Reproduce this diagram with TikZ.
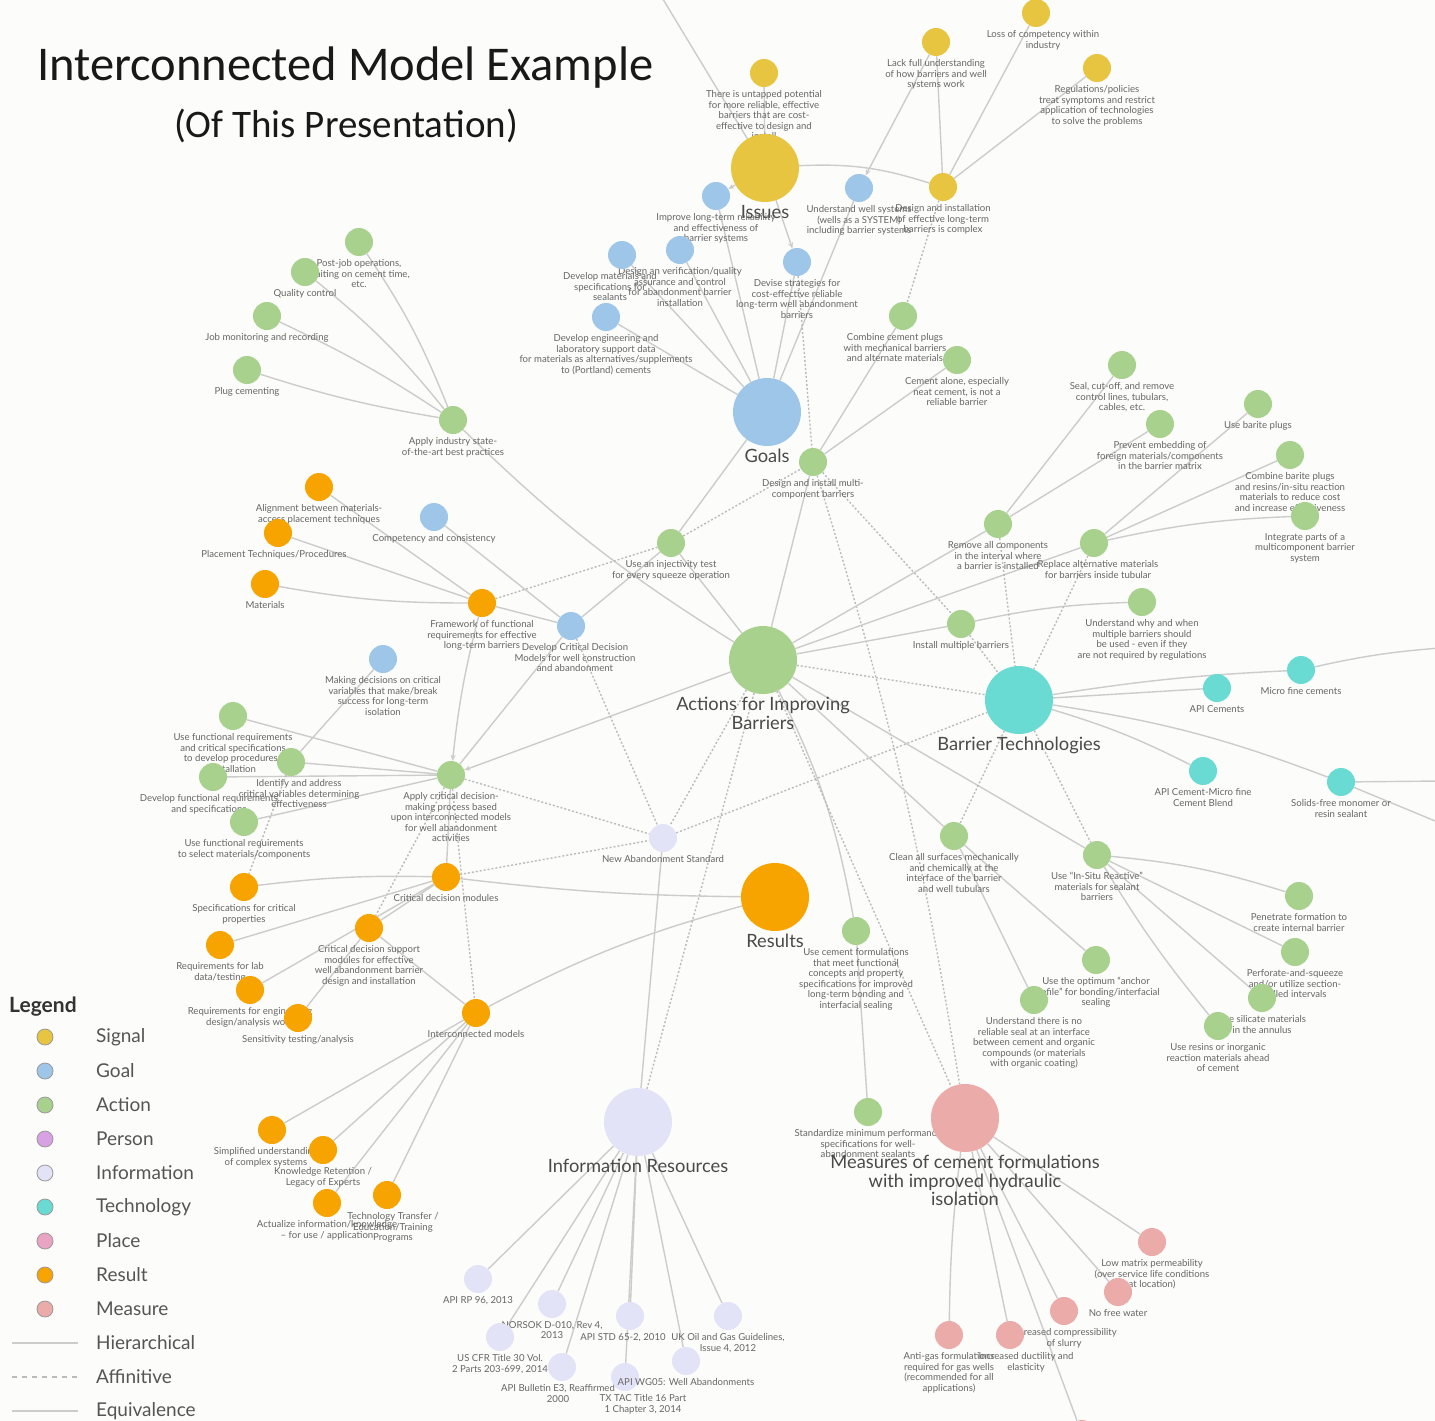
\documentclass[tikz,border=0pt]{standalone}
\usepackage{fontspec}
\setmainfont{Lato}
\newfontfamily\titlefont{Carlito}
\usetikzlibrary{arrows.meta,backgrounds}
\definecolor{bgc}{HTML}{FCFCFA}
\definecolor{cSig}{HTML}{E8C540}
\definecolor{cGoal}{HTML}{9DC6E8}
\definecolor{cAct}{HTML}{A9D18E}
\definecolor{cPer}{HTML}{D7A1E3}
\definecolor{cInfo}{HTML}{E3E3F7}
\definecolor{cTech}{HTML}{6ADBD3}
\definecolor{cPlace}{HTML}{E9A4C4}
\definecolor{cRes}{HTML}{F7A400}
\definecolor{cMeas}{HTML}{EBABA8}
\definecolor{edgec}{HTML}{CCCCCC}
\definecolor{affc}{HTML}{BBBBBB}
\definecolor{labc}{HTML}{666666}
\definecolor{hubc}{HTML}{4A4A4A}
\definecolor{legc}{HTML}{555555}
\newcommand\mknode[5]{\node[nd,#1,label={[lab,#4]below:{#5}}] (#2) at (#3) {};}
\begin{document}
\begin{tikzpicture}[x=1pt,y=-1pt,
  nd/.style={circle,inner sep=0pt,minimum size=28pt},
  hub/.style={circle,inner sep=0pt,minimum size=68pt},
  sig/.style={fill=cSig}, goal/.style={fill=cGoal}, act/.style={fill=cAct},
  info/.style={fill=cInfo}, tech/.style={fill=cTech}, res/.style={fill=cRes},
  meas/.style={fill=cMeas},
  lab/.style={font=\fontsize{9.6}{10.6}\selectfont, text=labc, align=center, inner sep=1pt, label distance=2pt},
  hublab/.style={font=\fontsize{18.3}{18.5}\selectfont, text=hubc, align=center, inner sep=1pt, label distance=2pt},
  hier/.style={draw=edgec, line width=1.4pt},
  aff/.style={draw=affc, line width=1.4pt, dash pattern=on 2pt off 2pt},
  arr/.style={-{Stealth[length=6pt,width=5pt]}},
  legcirc/.style={circle,inner sep=0pt,minimum size=16pt,draw=black!40,line width=0.8pt},
  legtxt/.style={anchor=west,font=\fontsize{19}{20}\selectfont,text=legc,inner sep=0pt}
]
\useasboundingbox (0,0) rectangle (1435,1421);

% ---------- title ----------
\node[anchor=base west,inner sep=0pt,font=\titlefont\fontsize{48.5}{52}\selectfont,text=black!90] (title) at (37,81) {Interconnected Model Example};
\node[anchor=base,inner sep=0pt,font=\titlefont\fontsize{39}{42}\selectfont,text=black!90] (subtitle) at (346,137) {(Of This Presentation)};

% ---------- signals ----------
\node[nd,fill=gray!45] (topn) at (655,-14) {};
\mknode{sig}{s1}{764,73}{}{There is untapped potential\\for more reliable, effective\\barriers that are cost-\\effective to design and\\install}
\mknode{sig}{s2}{936,42}{}{Lack full understanding\\of how barriers and well\\systems work}
\mknode{sig}{s3}{1036,13}{xshift=7}{Loss of competency within\\industry}
\mknode{sig}{s4}{1097,68}{}{Regulations/policies\\treat symptoms and restrict\\application of technologies\\to solve the problems}
\mknode{sig}{s5}{943,187}{}{Design and installation\\of effective long-term\\barriers is complex}
\node[hub,sig,label={[hublab]below:Issues}] (issues) at (765,168) {};

% ---------- goals ----------
\mknode{goal}{g1}{716,196}{}{Improve long-term reliability\\and effectiveness of\\barrier systems}
\mknode{goal}{g2}{859,188}{}{Understand well systems\\(wells as a SYSTEM)\\including barrier systems}
\mknode{goal}{g3}{797,262}{}{Devise strategies for\\cost-effective reliable\\long-term well abandonment\\barriers}
\mknode{goal}{g4}{680,250}{}{Design an verification/quality\\assurance and control\\for abandonment barrier\\installation}
\mknode{goal}{g5}{622,255}{xshift=-12}{Develop materials and\\specifications for\\sealants}
\mknode{goal}{g6}{606,317}{}{Develop engineering and\\laboratory support data\\for materials as alternatives/supplements\\to (Portland) cements}
\node[hub,goal,label={[hublab]below:Goals}] (goals) at (767,412) {};
\mknode{goal}{g7}{434,517}{}{Competency and consistency}
\mknode{goal}{g8}{571,626}{xshift=4}{Develop Critical Decision\\Models for well construction\\and abandonment}
\mknode{goal}{g9}{383,659}{}{Making decisions on critical\\variables that make/break\\success for long-term\\isolation}

% ---------- actions ----------
\mknode{act}{a1}{359,242}{}{Post-job operations,\\waiting on cement time,\\etc.}
\mknode{act}{a2}{305,272}{}{Quality control}
\mknode{act}{a3}{267,316}{}{Job monitoring and recording}
\mknode{act}{a4}{247,370}{}{Plug cementing}
\mknode{act}{a5}{453,420}{}{Apply industry state-\\of-the-art best practices}
\mknode{act}{a6}{671,543}{}{Use an injectivity test\\for every squeeze operation}
\mknode{act}{a7}{813,462}{}{Design and install multi-\\component barriers}
\mknode{act}{a8}{903,316}{xshift=-8}{Combine cement plugs\\with mechanical barriers\\and alternate materials}
\mknode{act}{a9}{957,360}{}{Cement alone, especially\\neat cement, is not a\\reliable barrier}
\mknode{act}{a10}{1122,365}{}{Seal, cut-off, and remove\\control lines, tubulars,\\cables, etc.}
\mknode{act}{a11}{1160,424}{}{Prevent embedding of\\foreign materials/components\\in the barrier matrix}
\mknode{act}{a12}{1258,404}{}{Use barite plugs}
\mknode{act}{a13}{1290,455}{}{Combine barite plugs\\and resins/in-situ reaction\\materials to reduce cost\\and increase effectiveness}
\mknode{act}{a14}{1305,516}{}{Integrate parts of a\\multicomponent barrier\\system}
\mknode{act}{a15}{998,524}{}{Remove all components\\in the interval where\\a barrier is installed}
\mknode{act}{a16}{1094,543}{xshift=4}{Replace alternative materials\\for barriers inside tubular}
\mknode{act}{a17}{1142,602}{}{Understand why and when\\multiple barriers should\\be used - even if they\\are not required by regulations}
\mknode{act}{a18}{961,624}{}{Install multiple barriers}
\node[hub,act,label={[hublab]below:{Actions for Improving\\Barriers}}] (actions) at (763,660) {};
\mknode{act}{a19}{233,716}{}{Use functional requirements\\and critical specifications\\to develop procedures/\\installation}
\mknode{act}{a20}{291,762}{xshift=8}{Identify and address\\critical variables determining\\effectiveness}
\mknode{act}{a21}{213,777}{xshift=-4}{Develop functional requirements\\and specifications}
\mknode{act}{a22}{244,822}{}{Use functional requirements\\to select materials/components}
\mknode{act}{a23}{451,775}{}{Apply critical decision-\\making process based\\upon interconnected models\\for well abandonment\\activities}
\mknode{act}{a24}{954,836}{}{Clean all surfaces mechanically\\and chemically at the\\interface of the barrier\\and well tubulars}
\mknode{act}{a25}{1097,855}{}{Use “In-Situ Reactive”\\materials for sealant\\barriers}
\mknode{act}{a26}{1299,896}{}{Penetrate formation to\\create internal barrier}
\mknode{act}{a27}{1295,952}{}{Perforate-and-squeeze\\and/or utilize section-\\milled intervals}
\mknode{act}{a28}{1096,960}{}{Use the optimum “anchor\\profile” for bonding/interfacial\\sealing}
\mknode{act}{a29}{1034,1000}{}{Understand there is no\\reliable seal at an interface\\between cement and organic\\compounds (or materials\\with organic coating)}
\mknode{act}{a30}{1262,998}{}{Use silicate materials\\in the annulus}
\mknode{act}{a31}{1218,1026}{}{Use resins or inorganic\\reaction materials ahead\\of cement}
\mknode{act}{a32}{856,931}{}{Use cement formulations\\that meet functional\\concepts and property\\specifications for improved\\long-term bonding and\\interfacial sealing}
\mknode{act}{a33}{868,1112}{}{Standardize minimum performance\\specifications for well-\\abandonment sealants}

% ---------- technology ----------
\node[hub,tech,label={[hublab]below:Barrier Technologies}] (bt) at (1019,700) {};
\mknode{tech}{t1}{1301,670}{}{Micro fine cements}
\mknode{tech}{t2}{1217,688}{}{API Cements}
\mknode{tech}{t3}{1203,771}{}{API Cement-Micro fine\\Cement Blend}
\mknode{tech}{t4}{1341,782}{}{Solids-free monomer or\\resin sealant}
\coordinate (offa) at (1440,648);
\coordinate (offb) at (1440,781);
\coordinate (offc) at (1440,823);

% ---------- results ----------
\mknode{res}{r1}{319,487}{}{Alignment between materials-\\access placement techniques}
\mknode{res}{r2}{278,533}{xshift=-4}{Placement Techniques/Procedures}
\mknode{res}{r3}{265,584}{}{Materials}
\mknode{res}{r4}{482,603}{}{Framework of functional\\requirements for effective\\long-term barriers}
\mknode{res}{r5}{244,887}{}{Specifications for critical\\properties}
\mknode{res}{r6}{446,877}{}{Critical decision modules}
\mknode{res}{r7}{369,928}{}{Critical decision support\\modules for effective\\well abandonment barrier\\design and installation}
\mknode{res}{r8}{220,945}{}{Requirements for lab\\data/testing}
\mknode{res}{r9}{250,990}{}{Requirements for engineering\\design/analysis work}
\mknode{res}{r10}{298,1018}{}{Sensitivity testing/analysis}
\mknode{res}{r11}{476,1013}{}{Interconnected models}
\mknode{res}{r12}{272,1130}{xshift=-6}{Simplified understanding\\of complex systems}
\mknode{res}{r13}{323,1150}{}{Knowledge Retention /\\Legacy of Experts}
\mknode{res}{r14}{327,1203}{}{Actualize information/knowledge\\– for use / application}
\mknode{res}{r15}{387,1195}{xshift=6}{Technology Transfer /\\Education/Training\\Programs}
\node[hub,res,label={[hublab]below:Results}] (results) at (775,897) {};

% ---------- information ----------
\mknode{info}{i1}{663,838}{}{New Abandonment Standard}
\node[hub,info,label={[hublab]below:Information Resources}] (infohub) at (638,1122) {};
\mknode{info}{i2}{478,1279}{}{API RP 96, 2013}
\mknode{info}{i3}{552,1304}{}{NORSOK D-010, Rev 4,\\2013}
\mknode{info}{i4}{500,1337}{}{US CFR Title 30 Vol.\\2 Parts 203-699, 2014}
\mknode{info}{i5}{630,1316}{xshift=-7}{API STD 65-2, 2010}
\mknode{info}{i6}{728,1316}{}{UK Oil and Gas Guidelines,\\Issue 4, 2012}
\mknode{info}{i7}{562,1367}{xshift=-4}{API Bulletin E3, Reaffirmed\\2000}
\mknode{info}{i8}{625,1377}{xshift=18}{TX TAC Title 16 Part\\1 Chapter 3, 2014}
\mknode{info}{i9}{686,1361}{}{API WG05: Well Abandonments}

% ---------- measures ----------
\node[hub,meas,label={[hublab]below:{Measures of cement formulations\\with improved hydraulic\\isolation}}] (meas) at (965,1118) {};
\mknode{meas}{m1}{1152,1242}{}{Low matrix permeability\\(over service life conditions\\at location)}
\mknode{meas}{m2}{1118,1292}{}{No free water}
\mknode{meas}{m3}{1064,1311}{}{Increased compressibility\\of slurry}
\mknode{meas}{m4}{1010,1335}{xshift=16}{Increased ductility and\\elasticity}
\mknode{meas}{m5}{949,1335}{}{Anti-gas formulations\\required for gas wells\\(recommended for all\\applications)}
\node[nd,meas] (m6) at (1082,1434) {};

% ---------- legend ----------
\node[anchor=west,inner sep=0pt,font=\fontsize{21}{22}\selectfont\bfseries,text=black!80] (legend) at (9,1007) {Legend};
\node[legcirc,fill=cSig]   (lg1) at (45,1037) {}; \node[legtxt] (lt1) at (96,1037) {Signal};
\node[legcirc,fill=cGoal]  (lg2) at (45,1071) {}; \node[legtxt] (lt2) at (96,1071) {Goal};
\node[legcirc,fill=cAct]   (lg3) at (45,1105) {}; \node[legtxt] (lt3) at (96,1105) {Action};
\node[legcirc,fill=cPer]   (lg4) at (45,1139) {}; \node[legtxt] (lt4) at (96,1139) {Person};
\node[legcirc,fill=cInfo]  (lg5) at (45,1173) {}; \node[legtxt] (lt5) at (96,1173) {Information};
\node[legcirc,fill=cTech]  (lg6) at (45,1207) {}; \node[legtxt] (lt6) at (96,1207) {Technology};
\node[legcirc,fill=cPlace] (lg7) at (45,1241) {}; \node[legtxt] (lt7) at (96,1241) {Place};
\node[legcirc,fill=cRes]   (lg8) at (45,1275) {}; \node[legtxt] (lt8) at (96,1275) {Result};
\node[legcirc,fill=cMeas]  (lg9) at (45,1309) {}; \node[legtxt] (lt9) at (96,1309) {Measure};
\node[legtxt] (lt10) at (96,1343) {Hierarchical};
\node[legtxt] (lt11) at (96,1377) {Affinitive};
\node[legtxt] (lt12) at (96,1411) {Equivalence};
\coordinate (hA) at (12,1343); \coordinate (hB) at (78,1343);
\coordinate (fA) at (12,1377); \coordinate (fB) at (78,1377);
\coordinate (eA) at (12,1411); \coordinate (eB) at (78,1411);

% ---------- connectors ----------
\begin{scope}[on background layer]
\fill[bgc] (0,0) rectangle (1435,1421);
\draw[hier] (hA) -- (hB);
\draw[aff,dash pattern=on 5pt off 5pt] (fA) -- (fB);
\draw[hier] (eA) -- (eB);
% issues cluster
\draw[hier] (topn) -- (issues);
\draw[hier] (s1) -- (issues);
\draw[hier] (issues) to[bend left=10] (s5);
\draw[hier,arr] (issues) -- (g1);
\draw[hier,arr] (issues) -- (g3);
\draw[hier,arr] (s2) -- (g2);
\draw[hier] (s2) -- (s5);
\draw[hier] (s3) -- (s5);
\draw[hier] (s4) -- (s5);
\draw[aff] (s5) -- (a8);
% goals
\draw[hier] (goals) -- (g1);
\draw[hier] (goals) -- (g4);
\draw[hier] (goals) -- (g5);
\draw[hier] (goals) -- (g6);
\draw[hier] (goals) -- (g2);
\draw[hier] (goals) -- (g3);
\draw[hier] (goals) -- (a6);
\draw[aff] (g3) -- (a7);
\draw[hier] (a7) -- (a8);
\draw[hier] (a7) -- (a9);
\draw[hier] (a7) -- (actions);
\draw[aff] (a6) -- (a7);
\draw[aff] (a7) -- (a18);
\draw[aff] (a7) to[bend left=4] (meas);
% upper left
\draw[hier] (a1) to[bend left=6] (a5);
\draw[hier] (a2) to[bend left=6] (a5);
\draw[hier] (a3) to[bend left=4] (a5);
\draw[hier] (a4) to[bend right=4] (a5);
\draw[hier] (a5) to[bend right=6] (actions);
\draw[hier] (r1) -- (r4);
\draw[hier] (r2) -- (r4);
\draw[hier] (r3) to[bend right=5] (r4);
\draw[aff] (r4) -- (a6);
\draw[hier] (r4) -- (g8);
\draw[hier] (g7) -- (g8);
\draw[hier] (g8) -- (a6);
\draw[hier] (a6) -- (actions);
\draw[hier] (g9) -- (a20);
\draw[hier] (g8) -- (a23);
\draw[hier,arr] (actions) -- (a23);
\draw[hier,arr] (r4) to[bend right=4] (a23);
\draw[hier] (a23) -- (a19);
\draw[hier] (a23) -- (a20);
\draw[hier] (a23) -- (a21);
\draw[hier] (a23) -- (a22);
\draw[hier] (a23) -- (r6);
\draw[aff] (a20) -- (r5);
\draw[aff] (a23) -- (r7);
\draw[aff] (a23) -- (r11);
\draw[aff] (a23) -- (i1);
% results
\draw[hier] (r6) to[bend right=4] (r5);
\draw[hier] (r6) -- (r7);
\draw[hier] (r6) -- (r8);
\draw[hier] (r6) -- (r9);
\draw[hier] (r7) -- (r10);
\draw[hier] (r7) -- (r11);
\draw[aff] (r6) -- (i1);
\draw[hier] (r6) to[bend right=3] (results);
\draw[hier] (r11) to[bend left=6] (results);
\draw[hier] (r11) -- (r12);
\draw[hier] (r11) -- (r13);
\draw[hier] (r11) -- (r14);
\draw[hier] (r11) -- (r15);
% information
\draw[aff] (g8) -- (i1);
\draw[aff] (actions) -- (i1);
\draw[aff] (i1) -- (bt);
\draw[hier] (i1) -- (infohub);
\draw[aff] (actions) -- (infohub);
\draw[hier] (infohub) -- (i2);
\draw[hier] (infohub) -- (i3);
\draw[hier] (infohub) -- (i4);
\draw[hier] (infohub) -- (i5);
\draw[hier] (infohub) -- (i6);
\draw[hier] (infohub) -- (i7);
\draw[hier] (infohub) -- (i8);
\draw[hier] (infohub) -- (i9);
% actions right
\draw[hier] (actions) -- (a15);
\draw[hier] (actions) -- (a16);
\draw[hier] (actions) -- (a18);
\draw[hier] (a18) to[bend left=5] (a17);
\draw[hier] (a15) -- (a10);
\draw[hier] (a15) -- (a11);
\draw[hier] (a16) -- (a12);
\draw[hier] (a16) -- (a13);
\draw[hier] (a16) to[bend left=5] (a14);
\draw[aff] (a15) -- (bt);
\draw[aff] (a16) -- (bt);
\draw[aff] (a18) -- (bt);
\draw[aff] (actions) -- (bt);
% technology
\draw[hier] (bt) to[bend left=3] (t1);
\draw[hier] (bt) -- (t2);
\draw[hier] (bt) to[bend left=5] (t3);
\draw[hier] (bt) to[bend left=6] (t4);
\draw[hier] (t1) to[bend left=4] (offa);
\draw[hier] (t4) -- (offb);
\draw[hier] (t4) -- (offc);
% actions lower right
\draw[hier] (actions) -- (a24);
\draw[hier] (actions) -- (a25);
\draw[hier] (actions) to[bend left=8] (a32);
\draw[aff] (bt) -- (a24);
\draw[aff] (bt) -- (a25);
\draw[hier] (a24) -- (a28);
\draw[hier] (a24) -- (a29);
\draw[hier] (a25) to[bend left=6] (a26);
\draw[hier] (a25) -- (a27);
\draw[hier] (a25) -- (a30);
\draw[hier] (a25) to[bend right=4] (a31);
\draw[hier] (a32) -- (a33);
\draw[aff] (actions) -- (meas);
% measures
\draw[hier] (meas) -- (m1);
\draw[hier] (meas) -- (m2);
\draw[hier] (meas) -- (m3);
\draw[hier] (meas) -- (m4);
\draw[hier] (meas) to[bend right=3] (m5);
\draw[hier] (meas) -- (m6);
\end{scope}
\end{tikzpicture}
\end{document}
